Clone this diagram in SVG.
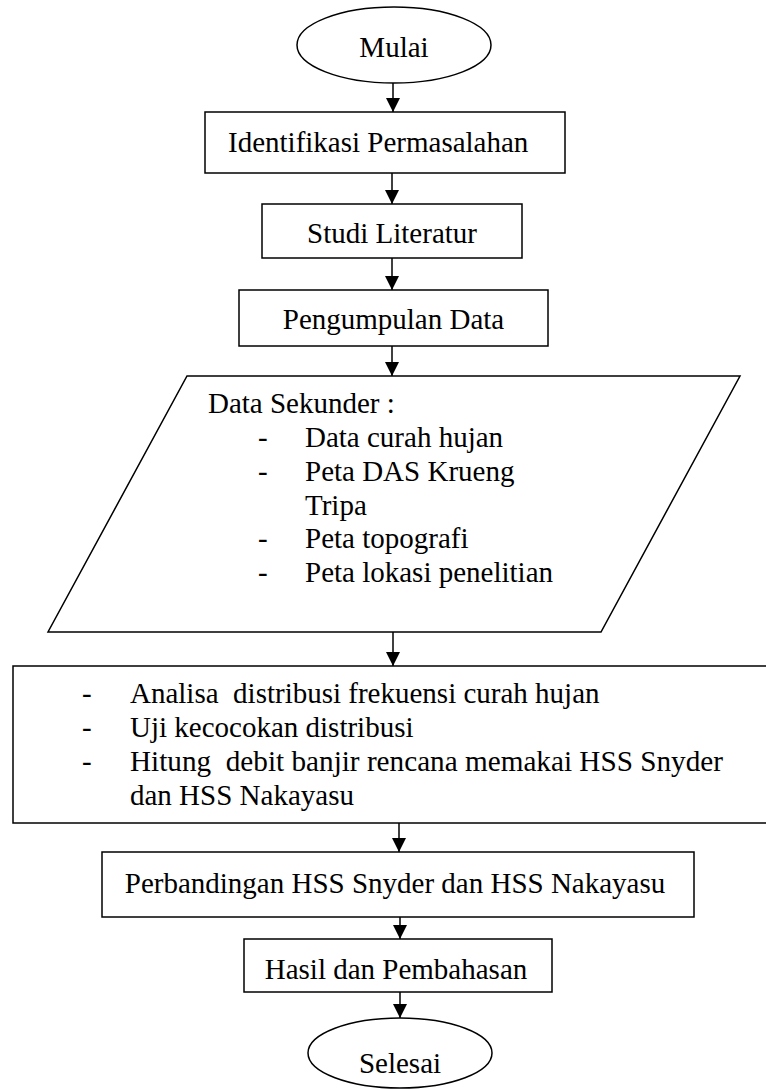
<svg xmlns="http://www.w3.org/2000/svg" width="766" height="1089" viewBox="0 0 766 1089">
<defs>
<marker id="ah" viewBox="0 0 14 14" refX="14" refY="7" markerWidth="14" markerHeight="14" markerUnits="userSpaceOnUse" orient="auto">
<path d="M0,0 L14,7 L0,14 Z" fill="#000"/>
</marker>
</defs>
<style>
.s{fill:#fff;stroke:#000;stroke-width:1.5}
.t{font-size:29px;fill:#000}
.c{text-anchor:middle}
.e{stroke:#000;stroke-width:1.5;fill:none;marker-end:url(#ah)}
</style>
<rect width="766" height="1089" fill="#fff"/>
<g id="connectors">
<line class="e" x1="393" y1="83" x2="393" y2="112"/>
<line class="e" x1="392" y1="173" x2="392" y2="204"/>
<line class="e" x1="392" y1="258" x2="392" y2="290"/>
<line class="e" x1="392" y1="346" x2="392" y2="376"/>
<line class="e" x1="393" y1="632" x2="393" y2="666"/>
<line class="e" x1="399" y1="823" x2="399" y2="852"/>
<line class="e" x1="400" y1="917" x2="400" y2="939"/>
<line class="e" x1="400" y1="992" x2="400" y2="1018"/>
</g>
<g font-family="Liberation Serif, Times New Roman, DejaVu Serif, serif">
<g id="mulai">
<ellipse class="s" cx="394" cy="45" rx="97" ry="38"/>
<text class="t c" x="394" y="57">Mulai</text>
</g>
<g id="identifikasi">
<rect class="s" x="205" y="112" width="360" height="61"/>
<text class="t" x="228" y="152">Identifikasi Permasalahan</text>
</g>
<g id="studi">
<rect class="s" x="262" y="204" width="260" height="54"/>
<text class="t c" x="392" y="243">Studi Literatur</text>
</g>
<g id="pengumpulan">
<rect class="s" x="239" y="290" width="309" height="56"/>
<text class="t c" x="393.5" y="329">Pengumpulan Data</text>
</g>
<g id="data-sekunder">
<polygon class="s" points="187,376 740,376 601,632 48,632"/>
<text class="t" x="208" y="413">Data Sekunder :</text>
<text class="t" x="258" y="447">-</text><text class="t" x="305" y="447">Data curah hujan</text>
<text class="t" x="258" y="481">-</text><text class="t" x="305" y="481">Peta DAS Krueng</text>
<text class="t" x="305" y="515">Tripa</text>
<text class="t" x="258" y="548">-</text><text class="t" x="305" y="548">Peta topografi</text>
<text class="t" x="258" y="582">-</text><text class="t" x="305" y="582">Peta lokasi penelitian</text>
</g>
<g id="analisa">
<rect class="s" x="13" y="666" width="780" height="157"/>
<text class="t" x="82" y="703">-</text><text class="t" x="130" y="703" xml:space="preserve">Analisa  distribusi frekuensi curah hujan</text>
<text class="t" x="82" y="737">-</text><text class="t" x="130" y="737">Uji kecocokan distribusi</text>
<text class="t" x="82" y="771">-</text><text class="t" x="130" y="771" xml:space="preserve" textLength="593" lengthAdjust="spacingAndGlyphs">Hitung  debit banjir rencana memakai HSS Snyder</text>
<text class="t" x="130" y="805">dan HSS Nakayasu</text>
</g>
<g id="perbandingan">
<rect class="s" x="102" y="852" width="592" height="65"/>
<text class="t c" x="395" y="893">Perbandingan HSS Snyder dan HSS Nakayasu</text>
</g>
<g id="hasil">
<rect class="s" x="244" y="939" width="308" height="53"/>
<text class="t c" x="396" y="979">Hasil dan Pembahasan</text>
</g>
<g id="selesai">
<ellipse class="s" cx="400" cy="1053" rx="92" ry="35"/>
<text class="t c" x="400" y="1073">Selesai</text>
</g>
</g>
</svg>
